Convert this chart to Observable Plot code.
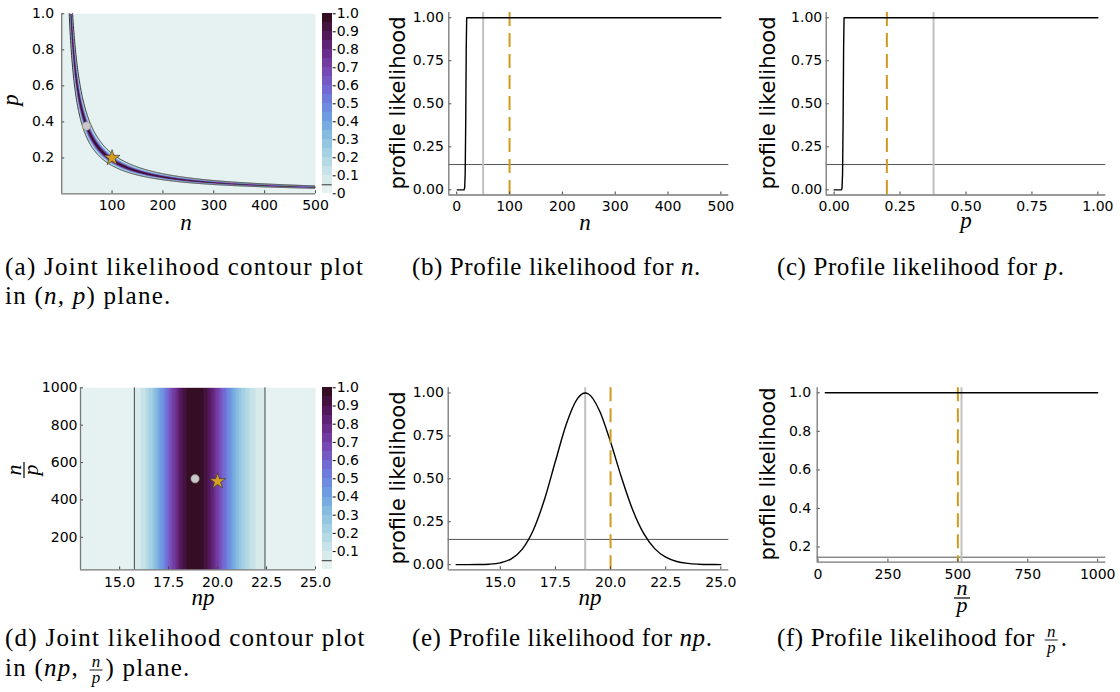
<!DOCTYPE html>
<html>
<head>
<meta charset="utf-8">
<script src="https://cdn.jsdelivr.net/npm/d3@7"></script>
<script src="https://cdn.jsdelivr.net/npm/@observablehq/plot@0.6"></script>
<style>
  html, body { margin: 0; padding: 0; background: #fff; }
  body { width: 1120px; height: 692px; position: relative; overflow: hidden; font-family: "DejaVu Sans", sans-serif; }
  svg { overflow: visible; }
  .serif { font-family: "Liberation Serif", "Times New Roman", "DejaVu Serif", serif; }
</style>
</head>
<body>
<script>
// ---------------- data ----------------
// (b) profile likelihood for n
const nGrid    = [1, 10, 13, 14, 15, 16, 17, 18, 18.85, 20, 50, 100, 200, 300, 400, 500];
const nProfile = [0, 0, 0, 0.0005, 0.0104, 0.0908, 0.378, 0.821, 1, 1, 1, 1, 1, 1, 1, 1];
// (c) profile likelihood for p
const pGrid    = [0, 0.02, 0.026, 0.028, 0.03, 0.032, 0.034, 0.036, 0.0377, 0.05, 0.25, 0.5, 0.75, 1];
const pProfile = [0, 0, 0, 0.0005, 0.0104, 0.0908, 0.378, 0.821, 1, 1, 1, 1, 1, 1];
// (e) profile likelihood for np
const npGrid    = [13, 13.5, 14, 14.5, 15, 15.5, 16, 16.5, 17, 17.5, 18, 18.5, 18.85, 19, 19.5, 20, 20.5, 21, 21.5, 22, 22.5, 23, 23.5, 24, 24.5, 25];
const npProfile = [0, 0.0001, 0.0005, 0.0026, 0.0104, 0.0338, 0.0908, 0.202, 0.378, 0.602, 0.821, 0.967, 1, 0.994, 0.896, 0.714, 0.506, 0.320, 0.182, 0.0932, 0.0434, 0.0185, 0.0072, 0.0026, 0.0008, 0.0003];
// (f) profile likelihood for n/p
const ratioGrid    = [26, 250, 500, 750, 1000];
const ratioProfile = [1, 1, 1, 1, 1];

const threshold = 0.147;
const mle   = {n: 50,  p: 0.377, np: 18.85, ratio: 513};
const truth = {n: 100, p: 0.2,   np: 20,    ratio: 500};

// filled-contour levels and the np values where the joint likelihood crosses each level 0.05 ... 0.95
const levels    = [0, 0.05, 0.1, 0.15, 0.2, 0.25, 0.3, 0.35, 0.4, 0.45, 0.5, 0.55, 0.6, 0.65, 0.7, 0.75, 0.8, 0.85, 0.9, 0.95];
const bandLeft  = [15.75, 16.05, 16.30, 16.49, 16.66, 16.80, 16.93, 17.05, 17.17, 17.28, 17.39, 17.50, 17.60, 17.71, 17.83, 17.95, 18.08, 18.23, 18.42];
const bandRight = [22.42, 21.95, 21.65, 21.42, 21.23, 21.06, 20.91, 20.77, 20.64, 20.51, 20.39, 20.27, 20.15, 20.03, 19.91, 19.78, 19.65, 19.49, 19.29];

// tick labels
const aXTicks = [100, 200, 300, 400, 500];
const aYTicks = [0.2, 0.4, 0.6, 0.8, 1.0];
const cbTicksA = [0, 0.1, 0.2, 0.3, 0.4, 0.5, 0.6, 0.7, 0.8, 0.9, 1.0];
const cbTicksD = [0.1, 0.2, 0.3, 0.4, 0.5, 0.6, 0.7, 0.8, 0.9, 1.0];
const bXTicks = [0, 100, 200, 300, 400, 500];
const profTicks = [0, 0.25, 0.5, 0.75, 1.0];
const cXTicks = [0, 0.25, 0.5, 0.75, 1.0];
const dXTicks = [15, 17.5, 20, 22.5, 25];
const dYTicks = [200, 400, 600, 800, 1000];
const eXTicks = [15, 17.5, 20, 22.5, 25];
const fXTicks = [0, 250, 500, 750, 1000];
const fYTicks = [0.2, 0.4, 0.6, 0.8, 1.0];

// ---------------- styles ----------------
const denseAnchors = ["#e6f1f1", "#c9e3e8", "#a9d3e3", "#8abfe0", "#70a3e0", "#6d84e0", "#7563cd", "#7645ad", "#6a2a87", "#52175a", "#360e24"];
const palette = d3.quantize(d3.piecewise(d3.interpolateRgb, denseAnchors), levels.length);
const colorScale = {type: "threshold", domain: levels.slice(1), range: palette};
const GOLD = "#d09a1e", GREY = "#c0c0c0", SPINE = "#777", THR = "#555";
const f1 = d3.format(".1f"), f2 = d3.format(".2f"), fd = d3.format("d");

function levelOf(v) {
  let L = levels[0];
  for (let k = 0; k < bandLeft.length; k++) if (v >= bandLeft[k] && v <= bandRight[k]) L = levels[k + 1];
  return L;
}

function place(el, left, top) {
  el.style.position = "absolute";
  el.style.left = left + "px";
  el.style.top = top + "px";
  document.body.appendChild(el);
}

function panel(box, frame, opts) {
  const el = Plot.plot({
    width: box.w, height: box.h,
    marginLeft: frame.x0 - box.left, marginRight: box.left + box.w - frame.x1,
    marginTop: frame.y0 - box.top, marginBottom: box.top + box.h - frame.y1,
    style: {fontFamily: "DejaVu Sans", fontSize: "14px", color: "#000", background: "transparent", overflow: "visible"},
    ...opts
  });
  place(el, box.left, box.top);
  return el;
}

function axes(frame, xDom, yDom, xTicks, xFmt, yTicks, yFmt, xPad, yPad) {
  const fw = frame.x1 - frame.x0, fh = frame.y1 - frame.y0;
  return [
    Plot.ruleX(xTicks, {x: d => d, insetTop: fh - 3, stroke: "#444", strokeWidth: 1}),
    Plot.ruleY(yTicks, {y: d => d, insetRight: fw - 3, stroke: "#444", strokeWidth: 1}),
    Plot.ruleX([xDom[0]], {stroke: SPINE, strokeWidth: 1.3}),
    Plot.ruleY([yDom[0]], {stroke: SPINE, strokeWidth: 1.3}),
    Plot.axisX(xTicks, {tickSize: 0, tickPadding: xPad, tickFormat: xFmt, label: null}),
    Plot.axisY(yTicks, {tickSize: 0, tickPadding: yPad, tickFormat: yFmt, label: null})
  ];
}

function colorbar(box, frame, ticks) {
  panel(box, frame, {
    x: {domain: [0, 1], axis: null},
    y: {domain: [0, 1]},
    color: colorScale,
    marks: [
      Plot.rect(levels, {x1: d => 0, x2: d => 1, y1: d => d, y2: d => d + 0.05, fill: d => d, shapeRendering: "crispEdges"}),
      Plot.ruleY([levels[1]], {stroke: "#333", strokeWidth: 1}),
      Plot.axisY(ticks, {anchor: "right", tickSize: 3, tickPadding: 1.5, tickFormat: d => d === 0 ? "0" : f1(d), label: null})
    ]
  });
}

const toRows = (xs, ys) => xs.map((x, i) => ({x, y: ys[i]}));

// ---------------- (a) joint likelihood in (n, p) ----------------
{
  const box = {left: 0, top: 0, w: 318, h: 240};
  const frame = {x0: 61.2, x1: 315, y0: 13.3, y1: 193.3};
  const xDom = [1, 500], yDom = [0.001, 1];
  const curveN = d3.range(10, 500.5, 0.5);
  panel(box, frame, {
    x: {domain: xDom}, y: {domain: yDom}, color: colorScale,
    marks: [
      Plot.raster({fill: (x, y) => levelOf(x * y), x1: xDom[0], x2: xDom[1], y1: yDom[0], y2: yDom[1], pixelSize: 1}),
      Plot.line(curveN, {x: d => d, y: d => bandLeft[0] / d, stroke: "#333", strokeWidth: 1, clip: true}),
      Plot.line(curveN, {x: d => d, y: d => bandRight[0] / d, stroke: "#333", strokeWidth: 1, clip: true}),
      Plot.dot([mle], {x: "n", y: "p", r: 4.2, fill: "#c8c8c8", stroke: "#8a8a8a", strokeWidth: 0.6}),
      Plot.dot([truth], {x: "n", y: "p", symbol: "star", r: 5, fill: "#d5a021", stroke: "#333", strokeWidth: 0.6}),
      ...axes(frame, xDom, yDom, aXTicks, fd, aYTicks, f1, 6.5, 7.5)
    ]
  });
  colorbar({left: 318, top: 0, w: 50, h: 240}, {x0: 321.7, x1: 331.7, y0: 13.3, y1: 193.3}, cbTicksA);
}

// ---------------- (b) profile likelihood for n ----------------
{
  const box = {left: 380, top: 0, w: 360, h: 240};
  const frame = {x0: 448.3, x1: 728.3, y0: 12.1, y1: 194.5};
  const xDom = [-15, 515], yDom = [-0.03, 1.03];
  panel(box, frame, {
    x: {domain: xDom}, y: {domain: yDom},
    marks: [
      Plot.ruleY([threshold], {stroke: THR, strokeWidth: 1}),
      Plot.ruleX([mle.n], {stroke: GREY, strokeWidth: 2}),
      Plot.ruleX([truth.n], {stroke: GOLD, strokeWidth: 2, strokeDasharray: "14,7"}),
      Plot.line(toRows(nGrid, nProfile), {x: "x", y: "y", stroke: "#000", strokeWidth: 1.4}),
      ...axes(frame, xDom, yDom, bXTicks, fd, profTicks, f2, 6.5, 5)
    ]
  });
}

// ---------------- (c) profile likelihood for p ----------------
{
  const box = {left: 750, top: 0, w: 370, h: 240};
  const frame = {x0: 825.7, x1: 1105.3, y0: 12.1, y1: 194.5};
  const xDom = [-0.03, 1.03], yDom = [-0.03, 1.03];
  panel(box, frame, {
    x: {domain: xDom}, y: {domain: yDom},
    marks: [
      Plot.ruleY([threshold], {stroke: THR, strokeWidth: 1}),
      Plot.ruleX([mle.p], {stroke: GREY, strokeWidth: 2}),
      Plot.ruleX([truth.p], {stroke: GOLD, strokeWidth: 2, strokeDasharray: "14,7"}),
      Plot.line(toRows(pGrid, pProfile), {x: "x", y: "y", stroke: "#000", strokeWidth: 1.4}),
      ...axes(frame, xDom, yDom, cXTicks, f2, profTicks, f2, 6.5, 4)
    ]
  });
}

// ---------------- (d) joint likelihood in (np, n/p) ----------------
{
  const box = {left: 0, top: 370, w: 318, h: 250};
  const frame = {x0: 80, x1: 315, y0: 387.3, y1: 569.3};
  const xDom = [13, 25], yDom = [26, 1000];
  panel(box, frame, {
    x: {domain: xDom}, y: {domain: yDom}, color: colorScale,
    marks: [
      Plot.raster({fill: (x, y) => levelOf(x), x1: xDom[0], x2: xDom[1], y1: yDom[0], y2: yDom[1], pixelSize: 1}),
      Plot.ruleX([bandLeft[0], bandRight[0]], {stroke: "#444", strokeWidth: 1}),
      Plot.dot([mle], {x: "np", y: "ratio", r: 4.2, fill: "#c8c8c8", stroke: "#8a8a8a", strokeWidth: 0.6}),
      Plot.dot([truth], {x: "np", y: "ratio", symbol: "star", r: 5, fill: "#d5a021", stroke: "#333", strokeWidth: 0.6}),
      ...axes(frame, xDom, yDom, dXTicks, f1, dYTicks, fd, 7, 3)
    ]
  });
  colorbar({left: 318, top: 370, w: 50, h: 250}, {x0: 321.7, x1: 331.7, y0: 387.3, y1: 569.3}, cbTicksD);
}

// ---------------- (e) profile likelihood for np ----------------
{
  const box = {left: 380, top: 370, w: 360, h: 250};
  const frame = {x0: 447.7, x1: 728.3, y0: 387.3, y1: 569.3};
  const xDom = [12.64, 25.36], yDom = [-0.03, 1.03];
  panel(box, frame, {
    x: {domain: xDom}, y: {domain: yDom},
    marks: [
      Plot.ruleY([threshold], {stroke: THR, strokeWidth: 1}),
      Plot.ruleX([mle.np], {stroke: GREY, strokeWidth: 2}),
      Plot.line(toRows(npGrid, npProfile), {x: "x", y: "y", stroke: "#000", strokeWidth: 1.4, curve: "monotone-x"}),
      Plot.ruleX([truth.np], {stroke: GOLD, strokeWidth: 2, strokeDasharray: "14,7"}),
      ...axes(frame, xDom, yDom, eXTicks, f1, profTicks, f2, 7, 4.4)
    ]
  });
}

// ---------------- (f) profile likelihood for n/p ----------------
{
  const box = {left: 750, top: 370, w: 370, h: 250};
  const frame = {x0: 816.7, x1: 1105.3, y0: 387.3, y1: 561.7};
  const xDom = [-3, 1029], yDom = [0.121, 1.026];
  panel(box, frame, {
    x: {domain: xDom}, y: {domain: yDom},
    marks: [
      Plot.ruleY([threshold], {stroke: THR, strokeWidth: 1}),
      Plot.ruleX([mle.ratio], {stroke: GREY, strokeWidth: 2}),
      Plot.ruleX([truth.ratio], {stroke: GOLD, strokeWidth: 2, strokeDasharray: "14,7"}),
      Plot.line(toRows(ratioGrid, ratioProfile), {x: "x", y: "y", stroke: "#000", strokeWidth: 1.4}),
      ...axes(frame, xDom, yDom, fXTicks, fd, fYTicks, f1, 7, 6)
    ]
  });
}

// ---------------- axis labels and captions ----------------
const ov = d3.select("body").append("svg")
  .attr("width", 1120).attr("height", 692)
  .style("position", "absolute").style("left", "0px").style("top", "0px")
  .style("pointer-events", "none");

function ylab(text, x, cy) {
  ov.append("text").attr("transform", `translate(${x},${cy}) rotate(-90)`)
    .attr("text-anchor", "middle").style("font-family", "'DejaVu Sans'").attr("font-size", 21).text(text);
}
function mlab(text, x, y, rotate) {
  ov.append("text").attr("class", "serif")
    .attr("transform", rotate ? `translate(${x},${y}) rotate(-90)` : `translate(${x},${y})`)
    .attr("text-anchor", "middle").attr("font-style", "italic")
    .attr("font-size", 23).text(text);
}
function frac(g, cx, bar, num, den, fs, numOff, denOff, barW) {
  g.append("text").attr("class", "serif").attr("x", cx).attr("y", bar - numOff).attr("text-anchor", "middle")
    .attr("font-style", "italic").attr("font-size", fs).text(num);
  g.append("line").attr("x1", cx - barW / 2).attr("x2", cx + barW / 2).attr("y1", bar).attr("y2", bar)
    .attr("stroke", "#000").attr("stroke-width", fs > 20 ? 1.2 : 0.9);
  g.append("text").attr("class", "serif").attr("x", cx).attr("y", bar + denOff).attr("text-anchor", "middle")
    .attr("font-style", "italic").attr("font-size", fs).text(den);
}

ylab("profile likelihood", 405, 103);
ylab("profile likelihood", 775, 103);
ylab("profile likelihood", 405, 478);
ylab("profile likelihood", 775, 474);

mlab("n", 186, 230);
mlab("p", 18, 100, true);
mlab("n", 585, 230);
mlab("p", 966, 228);
mlab("np", 203, 605);
mlab("np", 590, 605);
// n/p label of (f)
frac(ov.append("g"), 962, 598, "n", "p", 22, 3, 14, 16);
// n/p label of (d), rotated
frac(ov.append("g").attr("transform", "translate(24,470) rotate(-90)"), 0, 0, "n", "p", 22, 3, 14, 16);

// captions
const CAP = 25;
function caption(x, y, ls, parts) {
  const g = ov.append("g").attr("class", "serif").attr("font-size", CAP).attr("fill", "#000");
  let cx = x;
  for (const p of parts) {
    if (p.frac) {
      const w = 13;
      cx += 3;
      frac(g, cx + w / 2, y - 6, p.frac[0], p.frac[1], 17, 3.5, 12.5, w);
      cx += w + 3;
    } else {
      const t = g.append("text").attr("class", "serif").attr("x", cx).attr("y", y).attr("letter-spacing", ls)
        .style("white-space", "pre").text(p.t.trimEnd());
      if (p.i) t.attr("font-style", "italic");
      cx += t.node().getComputedTextLength();
      if (p.t !== p.t.trimEnd()) cx += 0.25 * CAP + ls;
    }
  }
}
caption(5, 275, 1.25, [{t: "(a) Joint likelihood contour plot"}]);
caption(5, 304, 1.25, [{t: "in ("}, {t: "n, p", i: true}, {t: ") plane."}]);
caption(412, 275, 0.6, [{t: "(b) Profile likelihood for "}, {t: "n", i: true}, {t: "."}]);
caption(777, 275, 0.6, [{t: "(c) Profile likelihood for "}, {t: "p", i: true}, {t: "."}]);
caption(5, 646, 1.25, [{t: "(d) Joint likelihood contour plot"}]);
caption(5, 676, 1.25, [{t: "in ("}, {t: "np", i: true}, {t: ", "}, {frac: ["n", "p"]}, {t: ") plane."}]);
caption(412, 646, 0.6, [{t: "(e) Profile likelihood for "}, {t: "np", i: true}, {t: "."}]);
caption(777, 646, 0.6, [{t: "(f) Profile likelihood for "}, {frac: ["n", "p"]}, {t: "."}]);
</script>
</body>
</html>
